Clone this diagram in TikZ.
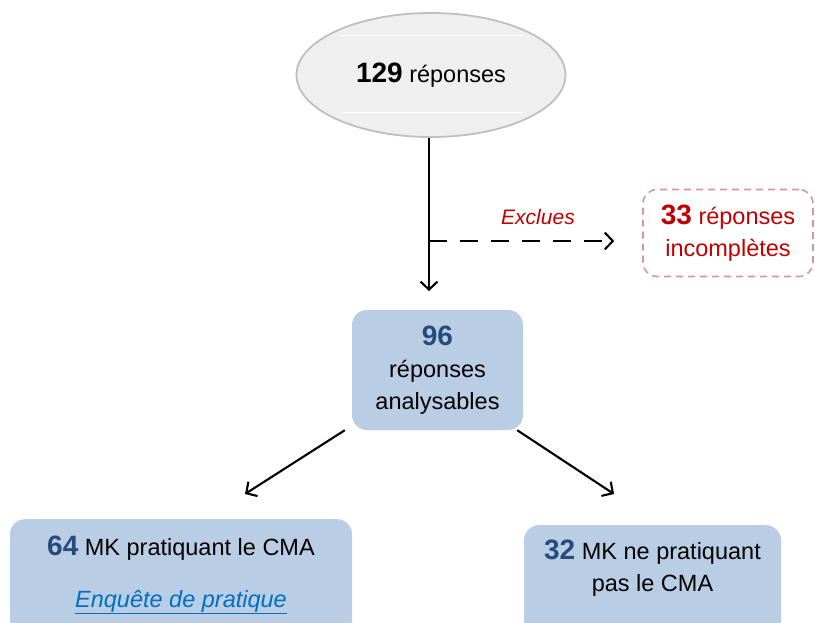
\documentclass[tikz,border=0pt]{standalone}
\usepackage{fontspec}
\setmainfont{Liberation Sans}
\usetikzlibrary{shapes.geometric}
\usetikzlibrary{arrows.meta}
\definecolor{boxblue}{HTML}{B9CDE5}
\definecolor{numblue}{HTML}{254A7C}
\definecolor{exred}{HTML}{C00000}
\definecolor{exborder}{HTML}{D99694}
\definecolor{ovalgray}{HTML}{EFEFEF}
\definecolor{ovalline}{HTML}{BFBFBF}
\definecolor{linkblue}{HTML}{0070C0}
\newcommand{\bignum}[2][numblue]{{\fontsize{28}{32}\selectfont\bfseries\color{#1}#2}}

\begin{document}
\begin{tikzpicture}[x=1pt,y=-1pt,
	txt/.style={font=\fontsize{23.5}{32}\selectfont, align=center},
	bluebox/.style={rounded corners=15pt, fill=boxblue, inner sep=0pt},
	arr/.style={line width=2.1pt, -{Straight Barb[length=8pt,width=17pt]}}]
	\useasboundingbox (0,0) rectangle (815,622);
	\clip (0,0) rectangle (815,622);

	\node[ellipse, draw=ovalline, line width=1.8pt, fill=ovalgray, minimum width=269pt, minimum height=124pt, txt] (rep) at (431,75) {\bignum[black]{129} réponses};
	\draw[white, line width=1pt] (340,35) -- (523,35);
	\draw[white, line width=1pt] (340,112) -- (523,112);

	\node[txt, draw=exborder, line width=1.6pt, dash pattern=on 7pt off 5pt, rounded corners=14pt, minimum width=170pt, minimum height=87pt, text=exred] (excl) at (728,233) {\bignum[exred]{33} réponses\\incomplètes};
	\node[font=\fontsize{21}{25}\selectfont\itshape, text=exred] (exlab) at (538,217) {Exclues};

	\node[txt, bluebox, minimum width=171pt, minimum height=120pt] (anal) at (437.5,370) {\bignum{96}\\réponses\\analysables};

	\node[bluebox, minimum width=342pt, minimum height=115pt, anchor=north] (cma) at (181,519) {};
	\node[txt] (cmatxt) at (181,575) {\bignum{64} MK pratiquant le CMA\\[20pt]\textcolor{linkblue}{\underline{\textit{Enquête de pratique}}}};

	\node[bluebox, minimum width=257pt, minimum height=115pt, anchor=north] (noncma) at (652.5,525) {};
	\node[txt] (noncmatxt) at (652.5,568) {\bignum{32} MK ne pratiquant\\pas le CMA};

	\coordinate (split) at (429,241);
	\coordinate (down) at (429,291);
	\coordinate (la) at (245,494);
	\coordinate (ra) at (614,494);

	\draw[arr] (split |- rep.south) -- (down);
	\draw[arr, dash pattern=on 18pt off 13pt, shorten >=28pt] (split) -- (split -| excl.west);
	\draw[arr] ([xshift=-7pt]anal.south west) -- (la);
	\draw[arr] ([xshift=-6pt]anal.south east) -- (ra);
\end{tikzpicture}
\end{document}
